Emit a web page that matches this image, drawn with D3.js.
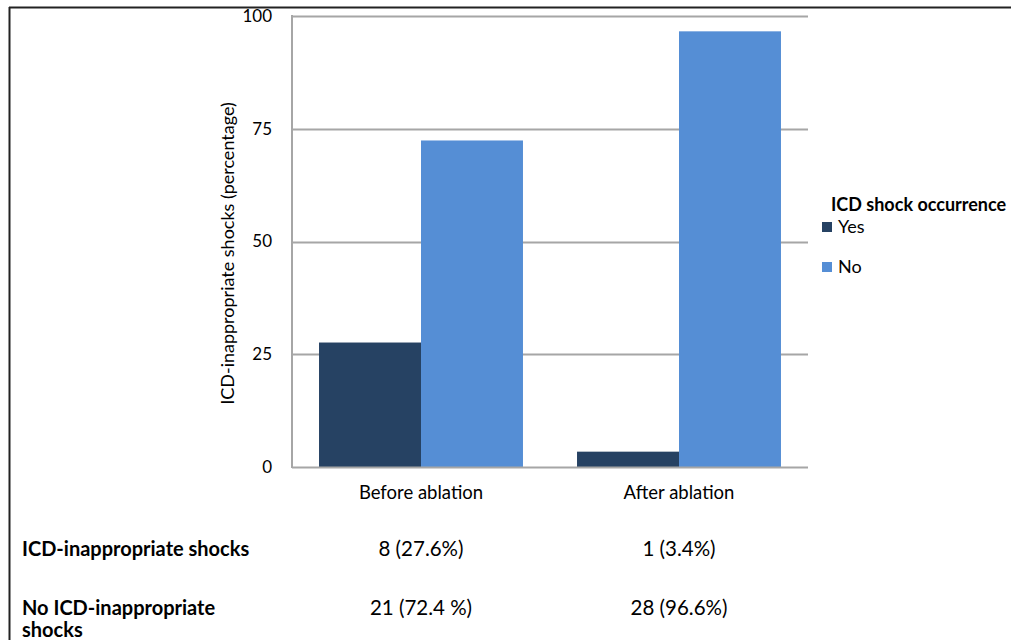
<!DOCTYPE html>
<html>
<head>
<meta charset="utf-8">
<script src="https://cdn.jsdelivr.net/npm/d3@7"></script>
<style>
  html, body { margin: 0; padding: 0; background: #fff; }
  svg { display: block; font-family: Lato, "Open Sans", sans-serif; }
</style>
</head>
<body>
<svg id="chart" width="1011" height="640"></svg>
<script>
// Chart data
const categories = ["Before ablation", "After ablation"];
const seriesNames = ["Yes", "No"];
const yesValues = [27.6, 3.4];
const noValues = [72.4, 96.6];
const yTicks = [0, 25, 50, 75, 100];
const legendTitle = "ICD shock occurrence";
const yAxisTitle = "ICD-inappropriate shocks (percentage)";

// Summary table under the chart
const rowLabels = [["ICD-inappropriate shocks"], ["No ICD-inappropriate", "shocks"]];
const rowBefore = ["8 (27.6%)", "21 (72.4 %)"];
const rowAfter = ["1 (3.4%)", "28 (96.6%)"];

const colors = { Yes: "#264263", No: "#558ed5" };

const svg = d3.select("#chart");

// Outer frame (top and left edges)
svg.append("line").attr("x1", 9).attr("x2", 1011).attr("y1", 7.5).attr("y2", 7.5)
  .attr("stroke", "#222").attr("stroke-width", 2);
svg.append("line").attr("x1", 9.5).attr("x2", 9.5).attr("y1", 7).attr("y2", 640)
  .attr("stroke", "#222").attr("stroke-width", 2);

const plot = { left: 292, right: 808, top: 16, bottom: 467 };

const x0 = d3.scaleBand().domain(categories).range([plot.left, plot.right]).padding(0);
const x1 = d3.scaleBand().domain(seriesNames).range([0, x0.bandwidth()])
  .paddingInner(0).paddingOuter(0.265);
const y = d3.scaleLinear().domain([0, 100]).range([plot.bottom, plot.top]);

// Gridlines
svg.append("g").selectAll("line").data(yTicks.filter(t => t > 0)).join("line")
  .attr("x1", plot.left).attr("x2", plot.right)
  .attr("y1", d => Math.round(y(d)) + 0.5).attr("y2", d => Math.round(y(d)) + 0.5)
  .attr("stroke", "#a6a6a6").attr("stroke-width", 2);

// Bars
const data = categories.map((c, i) => ({ cat: c, values: [
  { key: "Yes", v: yesValues[i] }, { key: "No", v: noValues[i] }] }));

const groups = svg.append("g").selectAll("g").data(data).join("g")
  .attr("transform", d => `translate(${x0(d.cat)},0)`);
groups.selectAll("rect").data(d => d.values).join("rect")
  .attr("x", d => x1(d.key))
  .attr("y", d => y(d.v))
  .attr("width", x1.bandwidth())
  .attr("height", d => y(0) - y(d.v))
  .attr("fill", d => colors[d.key]);

// Axis lines
svg.append("line").attr("x1", plot.left).attr("x2", plot.left)
  .attr("y1", plot.top - 1).attr("y2", plot.bottom + 1)
  .attr("stroke", "#a6a6a6").attr("stroke-width", 2);
svg.append("line").attr("x1", plot.left).attr("x2", plot.right)
  .attr("y1", plot.bottom + 0.5).attr("y2", plot.bottom + 0.5)
  .attr("stroke", "#a6a6a6").attr("stroke-width", 2);

// Y tick labels
svg.append("g").selectAll("text").data(yTicks).join("text")
  .attr("x", 272).attr("y", d => y(d))
  .attr("dy", "0.35em")
  .attr("text-anchor", "end")
  .attr("font-size", 17).attr("fill", "#000")
  .text(d => d);

// Y axis title
svg.append("text")
  .attr("transform", `translate(234, ${(plot.top + plot.bottom) / 2 + 12}) rotate(-90)`)
  .attr("text-anchor", "middle")
  .attr("font-size", 18).attr("fill", "#000")
  .text(yAxisTitle);

// Category labels
svg.append("g").selectAll("text").data(categories).join("text")
  .attr("x", d => x0(d) + x0.bandwidth() / 2)
  .attr("y", 499)
  .attr("text-anchor", "middle")
  .attr("font-size", 18.5).attr("fill", "#000")
  .text(d => d);

// Legend
const legend = svg.append("g");
legend.append("text").attr("x", 831).attr("y", 211)
  .attr("font-size", 18).attr("font-weight", "bold").attr("fill", "#000")
  .text(legendTitle);
seriesNames.forEach((s, i) => {
  const yy = 222 + i * 40;
  legend.append("rect").attr("x", 822).attr("y", yy).attr("width", 10).attr("height", 10)
    .attr("fill", colors[s]);
  legend.append("text").attr("x", 838).attr("y", yy + 11)
    .attr("font-size", 18).attr("fill", "#000").text(s);
});

// Summary table
const rowY = [556, 615];
rowLabels.forEach((lines, i) => {
  lines.forEach((ln, j) => {
    svg.append("text").attr("x", 22).attr("y", rowY[i] + j * 22)
      .attr("font-size", 20).attr("font-weight", "bold").attr("fill", "#000")
      .text(ln);
  });
  svg.append("text").attr("x", x0(categories[0]) + x0.bandwidth() / 2).attr("y", rowY[i])
    .attr("text-anchor", "middle").attr("font-size", 20.5).attr("fill", "#000")
    .text(rowBefore[i]);
  svg.append("text").attr("x", x0(categories[1]) + x0.bandwidth() / 2).attr("y", rowY[i])
    .attr("text-anchor", "middle").attr("font-size", 20.5).attr("fill", "#000")
    .text(rowAfter[i]);
});
</script>
</body>
</html>
